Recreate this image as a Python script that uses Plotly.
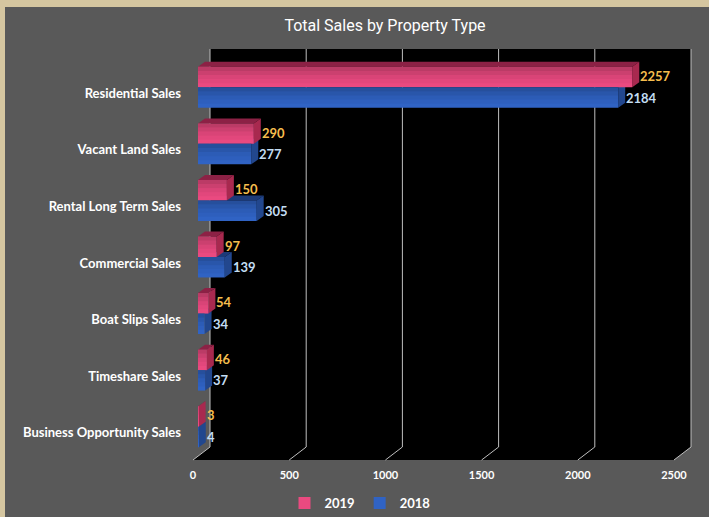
import plotly.graph_objects as go

# ---------------- data ----------------
categories = ["Residential Sales", "Vacant Land Sales", "Rental Long Term Sales",
              "Commercial Sales", "Boat Slips Sales", "Timeshare Sales",
              "Business Opportunity Sales"]
sales_2019 = [2257, 290, 150, 97, 54, 46, 3]
sales_2018 = [2184, 277, 305, 139, 34, 37, 4]
x_ticks = [0, 500, 1000, 1500, 2000, 2500]
series_names = ["2019", "2018"]

# ---------------- layout geometry ----------------
FIG_W, FIG_H = 709, 517
L, R, T, B = 198, 679, 59, 455
PW, PH = R - L, B - T
XMAX = x_ticks[-1]
NCAT = len(categories)
BARGAP = 0.276
BW = (1 - BARGAP) / 2          # width of one bar in category units
DX, DY = 7, 5                   # bar depth (px)
DXU = DX * XMAX / PW            # same in data units
DYU = DY * NCAT / PH

WALL_DX = 12                    # back wall offset (px)
WALL_TOP, WALL_BOT, FLOOR_FRONT = 49, 447, 460
FLOOR_DX = -5

PINK, PINK_TOP, PINK_SIDE = "#EA4A80", "#8C2145", "#A8294F"
BLUE, BLUE_TOP, BLUE_SIDE = "#3063C4", "#1C3A78", "#22478E"
GREY_BG, BEIGE = "#595959", "#D5C6A0"
FONT = "Lato, 'Open Sans', sans-serif"


def paper(xp, yp):
    return (xp - L) / PW, (B - yp) / PH


def xpx(v):
    return L + v * PW / XMAX


def path_paper(pts):
    s = []
    for k, (xp, yp) in enumerate(pts):
        a, b = paper(xp, yp)
        s.append(("M" if k == 0 else "L") + f"{a:.5f},{b:.5f}")
    return " ".join(s) + " Z"


def path_data(pts):
    s = []
    for k, (a, b) in enumerate(pts):
        s.append(("M" if k == 0 else "L") + f"{a:.4f},{b:.4f}")
    return " ".join(s) + " Z"


shapes = []
# outer grey panel over beige frame
x0, y0 = paper(5, 7)
x1, y1 = paper(FIG_W + 60, FIG_H + 60)
shapes.append(dict(type="rect", xref="paper", yref="paper", x0=x0, y0=y1, x1=x1, y1=y0,
                   fillcolor=GREY_BG, line=dict(width=0), layer="below"))
# black wall + floor
wall = [(xpx(0) + WALL_DX, WALL_TOP), (xpx(XMAX) + WALL_DX, WALL_TOP),
        (xpx(XMAX) + WALL_DX, WALL_BOT), (xpx(XMAX) + FLOOR_DX, FLOOR_FRONT),
        (xpx(0) + FLOOR_DX, FLOOR_FRONT), (xpx(0) + WALL_DX, WALL_BOT)]
shapes.append(dict(type="path", xref="paper", yref="paper", path=path_paper(wall),
                   fillcolor="black", line=dict(width=0), layer="below"))
# gridlines on wall + floor
for v in x_ticks:
    xb = xpx(v) + WALL_DX
    xf = xpx(v) + FLOOR_DX
    a0, b0 = paper(xb, WALL_TOP)
    a1, b1 = paper(xb, WALL_BOT)
    a2, b2 = paper(xf, FLOOR_FRONT)
    shapes.append(dict(type="path", xref="paper", yref="paper",
                       path=f"M{a0:.5f},{b0:.5f} L{a1:.5f},{b1:.5f} L{a2:.5f},{b2:.5f}",
                       line=dict(color="#BFBFBF", width=1), layer="below"))

# 3D faces of the bars (data coordinates; y axis reversed -> "up" is -DYU)
def faces(v, y_top, y_bot, top_col, side_col):
    out = []
    top = [(0, y_top), (DXU, y_top - DYU), (v + DXU, y_top - DYU), (v, y_top)]
    side = [(v, y_top), (v + DXU, y_top - DYU), (v + DXU, y_bot - DYU), (v, y_bot)]
    out.append(dict(type="path", xref="x", yref="y", path=path_data(top),
                    fillcolor=top_col, line=dict(width=0), layer="below"))
    out.append(dict(type="path", xref="x", yref="y", path=path_data(side),
                    fillcolor=side_col, line=dict(width=0), layer="below"))
    return out

for i in range(NCAT):
    shapes += faces(sales_2018[i], i, i + BW, BLUE_TOP, BLUE_SIDE)
for i in range(NCAT):
    shapes += faces(sales_2019[i], i - BW, i, PINK_TOP, PINK_SIDE)

# soft shading on the upper part of each bar's front face (gradient look)
SHADE = [(0.00, 0.2, 0.20), (0.2, 0.4, 0.13), (0.4, 0.6, 0.07), (0.6, 0.8, 0.03)]
for vals, off in ((sales_2019, -BW), (sales_2018, 0.0)):
    for i in range(NCAT):
        for f0, f1, op in SHADE:
            shapes.append(dict(type="rect", xref="x", yref="y", x0=0, x1=vals[i],
                               y0=i + off + f0 * BW, y1=i + off + f1 * BW,
                               fillcolor="black", opacity=op, line=dict(width=0),
                               layer="above"))

fig = go.Figure()
fig.add_trace(go.Bar(y=list(range(NCAT)), x=sales_2019, orientation="h", name=series_names[0],
                     marker=dict(color=PINK, line=dict(width=0))))
fig.add_trace(go.Bar(y=list(range(NCAT)), x=sales_2018, orientation="h", name=series_names[1],
                     marker=dict(color=BLUE, line=dict(width=0))))

annotations = []
for i in range(NCAT):
    annotations.append(dict(x=sales_2019[i], y=i - BW / 2, xref="x", yref="y",
                            text=str(sales_2019[i]), showarrow=False, xanchor="left",
                            xshift=DX - 1, yshift=1,
                            font=dict(color="#F5BE4E", size=13, family=FONT, weight="bold")))
    annotations.append(dict(x=sales_2018[i], y=i + BW / 2, xref="x", yref="y",
                            text=str(sales_2018[i]), showarrow=False, xanchor="left",
                            xshift=DX - 1, yshift=0,
                            font=dict(color="#C3DDF3", size=13, family=FONT, weight="bold")))

fig.update_layout(
    width=FIG_W, height=FIG_H,
    margin=dict(l=L, r=FIG_W - R, t=T, b=FIG_H - B, pad=0, autoexpand=False),
    paper_bgcolor=BEIGE, plot_bgcolor="rgba(0,0,0,0)",
    barmode="group", bargap=BARGAP, bargroupgap=0,
    title=dict(text="Total Sales by Property Type", x=385 / FIG_W, xanchor="center",
               y=1 - 25 / FIG_H, yanchor="middle", xref="container", yref="container",
               font=dict(color="white", size=16, family="Roboto, sans-serif")),
    xaxis=dict(range=[0, XMAX], tickvals=x_ticks, showgrid=False, zeroline=False,
               showline=False, ticks="", ticklabelshift=-5, ticklabelstandoff=12,
               tickfont=dict(color="white", size=11, family=FONT, weight="bold")),
    yaxis=dict(range=[NCAT - 0.5, -0.5], tickvals=list(range(NCAT)), ticktext=categories,
               showgrid=False, zeroline=False, showline=False, ticks="",
               ticklabelstandoff=16, ticklabelshift=-6,
               tickfont=dict(color="white", size=13, family=FONT, weight="bold")),
    legend=dict(orientation="h", x=360 / FIG_W, y=1 - 503 / FIG_H, xref="container",
                yref="container", xanchor="center", yanchor="middle",
                font=dict(color="white", size=13, family=FONT, weight="bold"),
                itemwidth=30, bgcolor="rgba(0,0,0,0)"),
    shapes=shapes, annotations=annotations,
)

fig.write_html("out.html")
